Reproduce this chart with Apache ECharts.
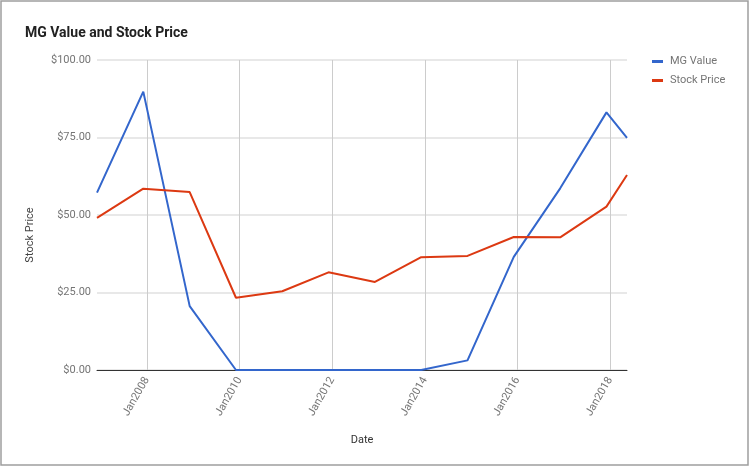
<!DOCTYPE html>
<html>
<head>
<meta charset="utf-8">
<script src="https://cdn.jsdelivr.net/npm/echarts@6/dist/echarts.min.js"></script>
<style>
html,body{margin:0;padding:0;background:#fff;}
#chart{width:752px;height:469px;}
</style>
</head>
<body>
<div id="chart"></div>
<script>
const dates = ['2006-12-03','2007-12-03','2008-12-03','2009-12-03','2010-12-03','2011-12-03','2012-12-03','2013-12-03','2014-12-03','2015-12-03','2016-12-03','2017-12-03','2018-05-14'];
const mgValue = [57.2, 89.8, 20.6, 0, 0, 0, 0, 0, 3.1, 36.5, 58.6, 83.1, 74.9];
const stockPrice = [49.1, 58.5, 57.4, 23.3, 25.4, 31.5, 28.4, 36.4, 36.8, 42.9, 42.8, 52.7, 62.9];
const tickDates = ['2008-01-01','2010-01-01','2012-01-01','2014-01-01','2016-01-01','2018-01-01'];
const tickLabels = ['Jan2008','Jan2010','Jan2012','Jan2014','Jan2016','Jan2018'];

const ts = s => { const p = s.split('-').map(Number); return Date.UTC(p[0], p[1]-1, p[2]); };
const tickTs = tickDates.map(ts);
const labelMap = {};
tickTs.forEach((t, i) => labelMap[t] = tickLabels[i]);

const chart = echarts.init(document.getElementById('chart'), null, {renderer: 'canvas'});
const font = 'Roboto, Arial, sans-serif';
chart.setOption({
  animation: false,
  textStyle: {fontFamily: font},
  title: {
    text: 'MG Value and Stock Price',
    left: 25, top: 26, padding: 0,
    textStyle: {fontFamily: font, fontSize: 14, fontWeight: 'bold', color: '#222'}
  },
  legend: {
    orient: 'vertical', left: 652, top: 56, padding: 0, itemGap: 8,
    icon: 'rect', itemWidth: 11, itemHeight: 3,
    textStyle: {fontFamily: font, fontSize: 11, color: '#757575', padding: [0,0,0,2]},
    data: ['MG Value', 'Stock Price']
  },
  grid: {left: 97, right: 125, top: 60, bottom: 99, containLabel: false},
  xAxis: {
    type: 'value',
    min: ts(dates[0]), max: ts(dates[dates.length-1]),
    name: 'Date', nameLocation: 'middle', nameGap: 65,
    nameTextStyle: {fontFamily: font, fontSize: 11, color: '#333'},
    axisLine: {show: true, onZero: false, lineStyle: {color: '#333', width: 1}},
    axisTick: {show: false, customValues: tickTs},
    axisLabel: {
      customValues: tickTs, rotate: 60, margin: 8,
      fontFamily: font, fontSize: 11, color: '#757575',
      formatter: v => labelMap[v] || ''
    },
    splitLine: {show: true, lineStyle: {color: '#cccccc', width: 1}}
  },
  yAxis: {
    type: 'value', min: 0, max: 100, interval: 25,
    axisLine: {show: false}, axisTick: {show: false},
    axisLabel: {margin: 6, fontFamily: font, fontSize: 11, color: '#757575',
      formatter: v => '$' + v.toFixed(2)},
    splitLine: {show: true, lineStyle: {color: '#e0e0e0', width: 1.5}}
  },
  series: [
    {name: 'MG Value', type: 'line', symbol: 'none', color: '#3366cc',
      lineStyle: {width: 2}, data: dates.map((d, i) => [ts(d), mgValue[i]])},
    {name: 'Stock Price', type: 'line', symbol: 'none', color: '#dc3912',
      lineStyle: {width: 2}, data: dates.map((d, i) => [ts(d), stockPrice[i]])}
  ],
  graphic: [
    {type: 'rect', shape: {x: 1, y: 1, width: 747, height: 464}, silent: true,
      style: {fill: null, stroke: '#9e9e9e', lineWidth: 1.5}},
    {type: 'text', x: 30, y: 235, rotation: Math.PI / 2, silent: true,
      style: {text: 'Stock Price', fontFamily: font, fontSize: 11, fill: '#444', align: 'center', verticalAlign: 'middle'}}
  ]
});
</script>
</body>
</html>
